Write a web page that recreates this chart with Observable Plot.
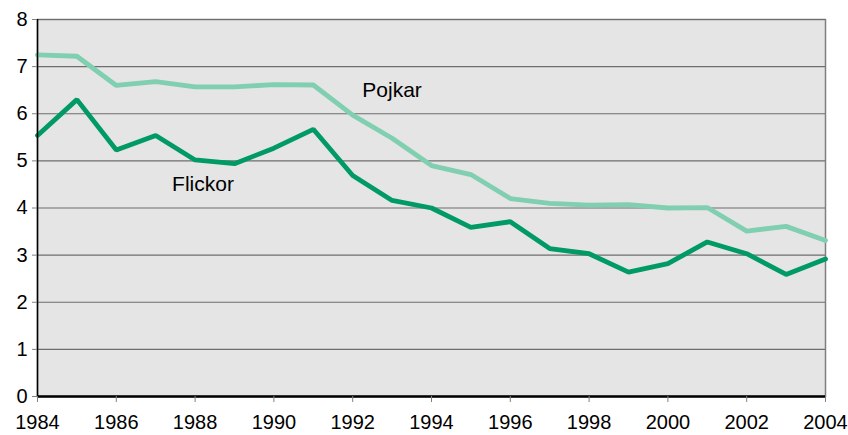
<!DOCTYPE html>
<html><head><meta charset="utf-8">
<script src="https://cdn.jsdelivr.net/npm/d3@7"></script>
<script src="https://cdn.jsdelivr.net/npm/@observablehq/plot@0.6"></script>
<style>body{margin:0;background:#fff;} svg{display:block;}</style>
</head><body><div id="chart"></div>
<script>
const years = [1984,1985,1986,1987,1988,1989,1990,1991,1992,1993,1994,1995,1996,1997,1998,1999,2000,2001,2002,2003,2004];
const pojkar = [7.25,7.22,6.60,6.68,6.57,6.57,6.62,6.61,5.97,5.48,4.90,4.71,4.20,4.10,4.06,4.07,4.00,4.01,3.51,3.61,3.31];
const flickor = [5.54,6.30,5.23,5.54,5.02,4.94,5.27,5.67,4.69,4.16,4.00,3.59,3.71,3.14,3.03,2.64,2.82,3.28,3.03,2.59,2.92];
const xTicks = [1984,1986,1988,1990,1992,1994,1996,1998,2000,2002,2004];
const yTicks = [0,1,2,3,4,5,6,7,8];
const labelNames = ["Pojkar","Flickor"];
const labelX = [1993.0, 1988.2];
const labelY = [6.5, 4.5];

const pData = years.map((y,i)=>({year:y, v:pojkar[i]}));
const fData = years.map((y,i)=>({year:y, v:flickor[i]}));
const labels = labelNames.map((n,i)=>({name:n, x:labelX[i], y:labelY[i]}));

const chart = Plot.plot({
  width: 848, height: 435,
  marginLeft: 37, marginRight: 23, marginTop: 19, marginBottom: 39,
  style: {fontFamily: "'Liberation Sans', Arial, sans-serif", fontSize: "19px", background: "#fff", color: "#000"},
  x: {domain: [1984, 2004]},
  y: {domain: [0, 8]},
  marks: [
    Plot.frame({fill: "#e5e5e5", stroke: "#7f7f7f", strokeWidth: 1.5}),
    Plot.gridY(yTicks.filter(d=>d>0), {stroke: "#6e6e6e", strokeOpacity: 1, strokeWidth: 1.2}),
    Plot.line(pData, {x: "year", y: "v", stroke: "#80cfb1", strokeWidth: 4.8, strokeLinejoin: "miter"}),
    Plot.line(fData, {x: "year", y: "v", stroke: "#009a64", strokeWidth: 4.8, strokeLinejoin: "miter"}),
    Plot.ruleX([1984], {stroke: "#000", strokeWidth: 1.5}),
    Plot.ruleY([0], {stroke: "#000", strokeWidth: 2.5}),
    Plot.axisX(xTicks, {tickSize: 6, tickPadding: 12, stroke: "#808080", fill: "#000", fontSize: 20, tickFormat: d=>String(d), label: null}),
    Plot.axisY(yTicks, {tickSize: 5, tickPadding: 5, stroke: "#808080", fill: "#000", fontSize: 20, label: null}),
    Plot.text(labels, {x: "x", y: "y", text: "name", fill: "#000", fontSize: 21})
  ]
});
document.getElementById("chart").appendChild(chart);
</script>
</body></html>
